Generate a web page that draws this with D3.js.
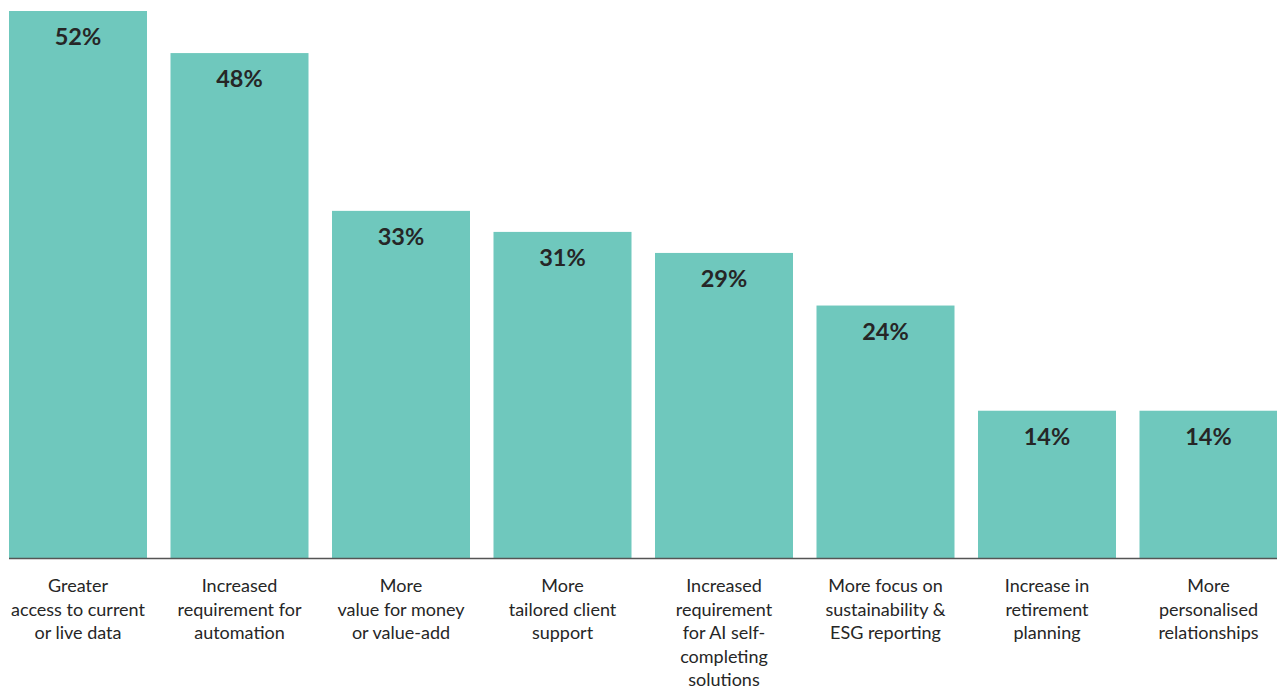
<!DOCTYPE html>
<html>
<head>
<meta charset="utf-8">
<script src="https://cdn.jsdelivr.net/npm/d3@7"></script>
<style>
  html, body { margin: 0; padding: 0; background: #fff; }
  svg { display: block; }
</style>
</head>
<body>
<svg id="chart" width="1277" height="690"></svg>
<script>
// Category labels, one array entry per text line
const categories = [
  ["Greater", "access to current", "or live data"],
  ["Increased", "requirement for", "automation"],
  ["More", "value for money", "or value-add"],
  ["More", "tailored client", "support"],
  ["Increased", "requirement", "for AI self-", "completing", "solutions"],
  ["More focus on", "sustainability &", "ESG reporting"],
  ["Increase in", "retirement", "planning"],
  ["More", "personalised", "relationships"]
];
const values = [52, 48, 33, 31, 29, 24, 14, 14];
const valueLabels = ["52%", "48%", "33%", "31%", "29%", "24%", "14%", "14%"];

const svg = d3.select("#chart");
const baseY = 558;
const barColor = "#6fc8bd";
const textColor = "#262626";
const fontFamily = "Lato, 'Noto Sans', sans-serif";

const x = d3.scaleBand()
  .domain(d3.range(values.length))
  .range([9, 1277.5])
  .paddingInner(0.1455)
  .paddingOuter(0);

const y = d3.scaleLinear()
  .domain([0, 52])
  .range([baseY, 11]);

// Bars
svg.append("g").selectAll("rect")
  .data(values)
  .join("rect")
  .attr("x", (d, i) => x(i))
  .attr("y", d => y(d))
  .attr("width", x.bandwidth())
  .attr("height", d => baseY - y(d))
  .attr("fill", barColor);

// Value labels inside the top of each bar
svg.append("g").selectAll("text")
  .data(values)
  .join("text")
  .attr("x", (d, i) => x(i) + x.bandwidth() / 2)
  .attr("y", d => y(d) + 34)
  .attr("text-anchor", "middle")
  .attr("font-family", fontFamily)
  .attr("font-weight", 700)
  .attr("font-size", 23.5)
  .attr("fill", textColor)
  .text((d, i) => valueLabels[i]);

// Baseline
svg.append("line")
  .attr("x1", 9).attr("x2", 1277)
  .attr("y1", baseY + 0.5).attr("y2", baseY + 0.5)
  .attr("stroke", "#555")
  .attr("stroke-width", 1.6);

// Category labels below the axis
const cat = svg.append("g").selectAll("text")
  .data(categories)
  .join("text")
  .attr("x", (d, i) => x(i) + x.bandwidth() / 2)
  .attr("y", 592)
  .attr("text-anchor", "middle")
  .attr("font-family", fontFamily)
  .attr("font-size", 18)
  .attr("fill", textColor);

cat.selectAll("tspan")
  .data(d => d)
  .join("tspan")
  .attr("x", function () { return d3.select(this.parentNode).attr("x"); })
  .attr("dy", (d, j) => j === 0 ? 0 : 23.5)
  .text(d => d);
</script>
</body>
</html>
